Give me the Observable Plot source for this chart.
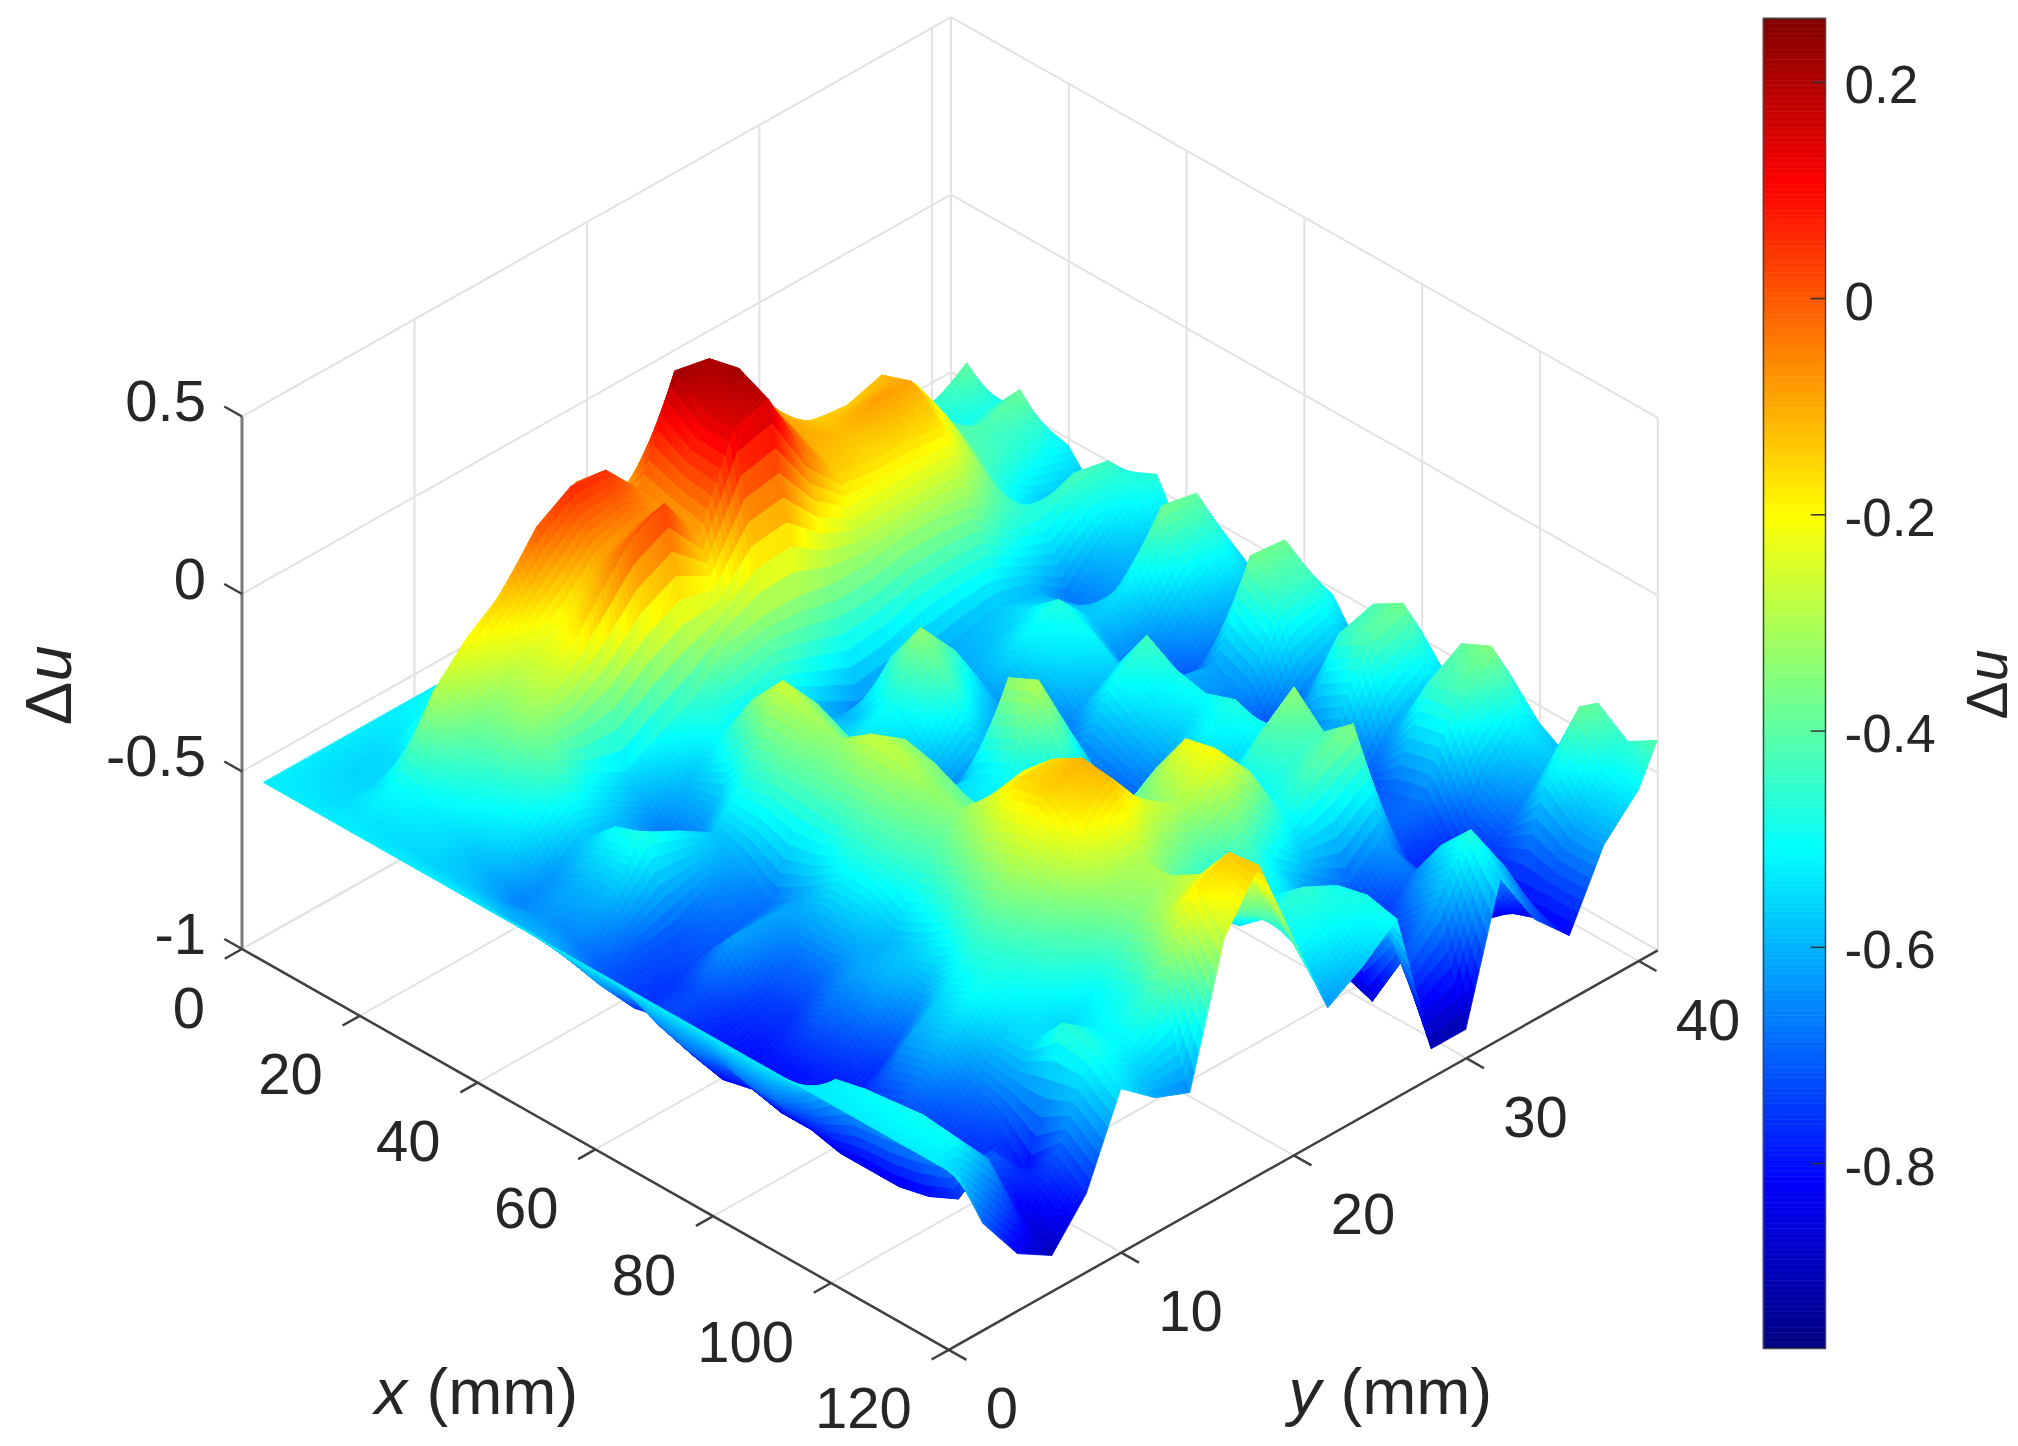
<!DOCTYPE html>
<html><head><meta charset="utf-8">
<script src="https://cdn.jsdelivr.net/npm/d3@7"></script>
<script src="https://cdn.jsdelivr.net/npm/@observablehq/plot@0.6"></script>
<style>html,body{margin:0;background:#fff}#c{position:relative;width:2018px;height:1446px;overflow:hidden}#c svg{position:absolute;top:0}</style>
</head><body><div id="c"></div>
<script>
const xs=[2,6,10,15,20,25,30,35,40,45,50,55,60,65,70,75,80,85,90,95,100,105,110,115,120];
const ys=[0.6,2,4,6,8,10,12,14,16,18,20,22,24,26,28,30,32,34,36,38,40,41.1];
const zY006=[-.53,-.53,-.53,-.53,-.53,-.53,-.53,-.53,-.53,-.53,-.53,-.53,-.53,-.53,-.53,-.53,-.53,-.53,-.53,-.53,-.53,-.53,-.53,-.53,-.53];
const zY02=[-.53,-.54,-.55,-.54,-.55,-.56,-.57,-.58,-.6,-.6,-.62,-.64,-.62,-.66,-.68,-.66,-.68,-.68,-.62,-.53,-.51,-.5,-.49,-.5,-.7];
const zY04=[-.53,-.56,-.56,-.5,-.52,-.55,-.6,-.66,-.64,-.66,-.72,-.76,-.74,-.8,-.82,-.8,-.82,-.82,-.84,-.84,-.84,-.82,-.78,-.62,-.84];
const zY06=[-.53,-.56,-.55,-.3,-.42,-.48,-.52,-.64,-.6,-.6,-.72,-.76,-.72,-.78,-.8,-.8,-.8,-.8,-.76,-.72,-.76,-.78,-.7,-.85,-.9];
const zY08=[-.53,-.52,-.42,-.2,-.34,-.33,-.42,-.58,-.5,-.47,-.72,-.72,-.62,-.74,-.76,-.7,-.72,-.76,-.62,-.6,-.68,-.72,-.82,-.72,-.78];
const zY10=[-.53,-.48,-.3,-.13,-.25,-.25,-.5,-.6,-.6,-.52,-.66,-.7,-.62,-.68,-.68,-.62,-.6,-.66,-.55,-.5,-.56,-.55,-.45,-.48,-.54];
const zY12=[-.53,-.42,-.22,0,-.2,-.12,-.55,-.66,-.72,-.58,-.62,-.68,-.62,-.55,-.55,-.6,-.56,-.5,-.44,-.46,-.5,-.56,-.52,-.52,-.62];
const zY14=[-.53,-.35,-.1,.06,-.1,0,-.5,-.6,-.58,-.46,-.42,-.42,-.44,-.42,-.42,-.44,-.4,-.34,-.3,-.36,-.42,-.5,-.48,-.42,-.66];
const zY16=[-.53,-.3,-.03,.05,-.06,.05,-.45,-.5,-.36,-.26,-.3,-.33,-.27,-.28,-.32,-.34,-.26,-.16,-.14,-.2,-.32,-.36,-.3,-.18,-.28];
const zY18=[-.53,-.3,-.15,-.06,-.08,-.1,-.35,-.6,-.48,-.38,-.42,-.46,-.34,-.36,-.4,-.42,-.24,-.16,-.11,-.12,-.3,-.3,-.25,-.14,-.13];
const zY20=[-.53,-.3,-.08,.22,.15,.15,-.33,-.55,-.58,-.55,-.58,-.66,-.55,-.55,-.58,-.62,-.5,-.3,-.25,-.25,-.4,-.46,-.42,-.32,-.39];
const zY22=[-.53,-.25,.08,.2,.22,.18,-.33,-.62,-.58,-.5,-.56,-.66,-.55,-.5,-.62,-.66,-.6,-.42,-.35,-.3,-.48,-.55,-.48,-.52,-.64];
const zY24=[-.53,-.3,.06,.1,.05,-.02,-.35,-.68,-.46,-.33,-.42,-.62,-.33,-.29,-.46,-.52,-.5,-.35,-.22,-.2,-.42,-.52,-.45,-.5,-.58];
const zY26=[-.53,-.32,-.02,-.08,-.1,-.14,-.35,-.66,-.56,-.45,-.58,-.7,-.5,-.5,-.62,-.66,-.66,-.5,-.34,-.32,-.55,-.6,-.5,-.48,-.5];
const zY28=[-.53,-.4,-.2,-.14,-.12,-.16,-.33,-.62,-.62,-.62,-.68,-.74,-.68,-.7,-.72,-.68,-.72,-.55,-.52,-.5,-.62,-.85,-.88,-.72,-.92];
const zY30=[-.53,-.45,-.26,-.15,-.08,-.16,-.33,-.6,-.58,-.52,-.56,-.62,-.5,-.56,-.6,-.52,-.58,-.42,-.46,-.4,-.7,-.78,-.7,-.62,-.92];
const zY32=[-.53,-.48,-.28,-.12,-.09,-.17,-.35,-.58,-.54,-.47,-.5,-.56,-.43,-.48,-.5,-.47,-.5,-.34,-.42,-.35,-.62,-.68,-.55,-.46,-.55];
const zY34=[-.53,-.46,-.26,-.2,-.24,-.32,-.45,-.6,-.58,-.58,-.66,-.72,-.6,-.68,-.72,-.68,-.55,-.58,-.72,-.7,-.78,-.76,-.82,-.62,-.72];
const zY36=[-.53,-.48,-.34,-.4,-.42,-.5,-.46,-.68,-.66,-.52,-.65,-.72,-.62,-.65,-.75,-.68,-.62,-.74,-.7,-.68,-.78,-.8,-.85,-.82,-.82];
const zY38=[-.53,-.46,-.5,-.42,-.46,-.6,-.42,-.58,-.62,-.37,-.55,-.66,-.37,-.45,-.66,-.45,-.4,-.62,-.45,-.43,-.62,-.68,-.55,-.62,-.62];
const zY40=[-.53,-.39,-.48,-.38,-.5,-.62,-.44,-.5,-.6,-.39,-.5,-.62,-.38,-.44,-.6,-.42,-.37,-.55,-.39,-.35,-.52,-.58,-.38,-.5,-.52];
const zY41=[-.53,-.5,-.5,-.5,-.52,-.62,-.5,-.46,-.62,-.5,-.56,-.64,-.5,-.52,-.64,-.52,-.48,-.58,-.5,-.46,-.55,-.6,-.4,-.46,-.41];
const zRows=[zY006,zY02,zY04,zY06,zY08,zY10,zY12,zY14,zY16,zY18,zY20,zY22,zY24,zY26,zY28,zY30,zY32,zY34,zY36,zY38,zY40,zY41];

const xTicks=[0,20,40,60,80,100,120], yTicks=[0,10,20,30,40], zTicks=[-1,-.5,0,.5], cTicks=[-.8,-.6,-.4,-.2,0,.2];
const xMax=120,yMax=41.1,zMin=-1,zMax=.5;
const cMin=-.971,cMax=.259;

// isometric-like view of the MATLAB axes
const O=[241.5,948.5],ux=[5.89,3.34],uy=[17.25,-9.72],uz=355;
const PX=(x,y,z)=>O[0]+ux[0]*x+uy[0]*y;
const PY=(x,y,z)=>O[1]+ux[1]*x+uy[1]*y-uz*(z-zMin);

const jetT=[0,.125,.375,.625,.875,1];
const jetC=["#000080","#0000ff","#00ffff","#ffff00","#ff0000","#800000"];
const colorOpt={type:"linear",domain:jetT.map(t=>cMin+t*(cMax-cMin)),range:jetC,interpolate:"rgb",clamp:true};

// quads for a "shading interp" surface, painted back to front
const N=8,cells=[];
for(let j=0;j<ys.length-1;j++)for(let i=0;i<xs.length-1;i++)for(let a=0;a<N;a++)for(let b=0;b<N;b++){
  const u0=a/N,u1=(a+1)/N,v0=b/N,v1=(b+1)/N;
  const f=(u,v)=>{
    const X=xs[i]+(xs[i+1]-xs[i])*u,Y=ys[j]+(ys[j+1]-ys[j])*v;
    const Z=(1-u)*(1-v)*zRows[j][i]+u*(1-v)*zRows[j][i+1]+(1-u)*v*zRows[j+1][i]+u*v*zRows[j+1][i+1];
    return [PX(X,Y,Z),PY(X,Y,Z),Z,X,Y];
  };
  const A=f(u0,v0),B=f(u1,v0),C=f(u0,v1),D=f(u1,v1),M=f((u0+u1)/2,(v0+v1)/2);
  cells.push({A,B,C,D,v:M[2],depth:3.36*M[3]-9.83*M[4]});
}
cells.sort((p,q)=>p.depth-q.depth);
const quads=[];
cells.forEach((c,k)=>{quads.push({k,v:c.v,x1:c.A[0],y1:c.A[1],x2:c.C[0],y2:c.C[1]});quads.push({k,v:c.v,x1:c.B[0],y1:c.B[1],x2:c.D[0],y2:c.D[1]});});

const seg=(a,b)=>({x1:PX(...a),y1:PY(...a),x2:PX(...b),y2:PY(...b)});
const grid=[];
for(const z of zTicks){grid.push(seg([0,0,z],[0,yMax,z]),seg([0,yMax,z],[xMax,yMax,z]));}
for(const y of yTicks){grid.push(seg([0,y,zMin],[0,y,zMax]),seg([0,y,zMin],[xMax,y,zMin]));}
for(const x of xTicks){grid.push(seg([x,yMax,zMin],[x,yMax,zMax]),seg([x,0,zMin],[x,yMax,zMin]));}
grid.push(seg([0,yMax,zMin],[0,yMax,zMax]));
const axesDark=[seg([0,0,zMin],[xMax,0,zMin]),seg([xMax,0,zMin],[xMax,yMax,zMin])];
const axisZ=[seg([0,0,zMin],[0,0,zMax])];
const ticks=[
 ...xTicks.map(x=>seg([x,0,zMin],[x,-1,zMin])),
 ...yTicks.map(y=>seg([xMax,y,zMin],[xMax+3,y,zMin])),
 ...zTicks.map(z=>seg([0,0,z],[-3,0,z]))
];
const F="Liberation Sans",INK="#262626";
const tick=(arr,fn,o)=>Plot.text(arr,{x:d=>fn(d)[0],y:d=>fn(d)[1],text:d=>String(d),fontSize:58,fill:INK,lineAnchor:"middle",...o});

const main=Plot.plot({width:2018,height:1446,margin:0,
  x:{domain:[0,2018],range:[0,2018],axis:null},y:{domain:[0,1446],range:[0,1446],axis:null},
  color:colorOpt,style:{fontFamily:F,background:"transparent",color:INK},
  marks:[
   Plot.link(grid,{x1:"x1",y1:"y1",x2:"x2",y2:"y2",stroke:"#e2e2e2",strokeWidth:2}),
   Plot.link(axisZ,{x1:"x1",y1:"y1",x2:"x2",y2:"y2",stroke:"#7a7a7a",strokeWidth:3}),
   Plot.link(axesDark,{x1:"x1",y1:"y1",x2:"x2",y2:"y2",stroke:"#404040",strokeWidth:2.5}),
   Plot.link(ticks,{x1:"x1",y1:"y1",x2:"x2",y2:"y2",stroke:"#404040",strokeWidth:2.5}),
   Plot.area(quads,{x1:"x1",y1:"y1",x2:"x2",y2:"y2",z:"k",fill:"v",stroke:"v",strokeWidth:.8}),
   tick(zTicks,z=>[PX(0,0,z),PY(0,0,z)],{textAnchor:"end",dx:-36,dy:-14}),
   tick(xTicks,x=>[PX(x,0,zMin),PY(x,0,zMin)],{textAnchor:"end",dx:-37,dy:60}),
   tick(yTicks,y=>[PX(xMax,y,zMin),PY(xMax,y,zMin)],{textAnchor:"start",dx:37,dy:60}),
   Plot.text(["x"],{x:()=>374,y:()=>1393,text:d=>d,fontSize:65,fontStyle:"italic",fill:INK,textAnchor:"start",lineAnchor:"middle"}),
   Plot.text(["(mm)"],{x:()=>426,y:()=>1393,text:d=>d,fontSize:65,fill:INK,textAnchor:"start",lineAnchor:"middle"}),
   Plot.text(["y"],{x:()=>1288,y:()=>1393,text:d=>d,fontSize:65,fontStyle:"italic",fill:INK,textAnchor:"start",lineAnchor:"middle"}),
   Plot.text(["(mm)"],{x:()=>1340,y:()=>1393,text:d=>d,fontSize:65,fill:INK,textAnchor:"start",lineAnchor:"middle"}),
   Plot.text(["Δ"],{x:()=>50,y:()=>703,text:d=>d,fontSize:65,rotate:-90,fill:INK,lineAnchor:"middle"}),
   Plot.text(["u"],{x:()=>50,y:()=>663,text:d=>d,fontSize:65,fontStyle:"italic",rotate:-90,fill:INK,lineAnchor:"middle"}),
   Plot.text(["Δ"],{x:()=>1988,y:()=>700,text:d=>d,fontSize:57,rotate:-90,fill:INK,lineAnchor:"middle"}),
   Plot.text(["u"],{x:()=>1988,y:()=>665,text:d=>d,fontSize:57,fontStyle:"italic",rotate:-90,fill:INK,lineAnchor:"middle"})
  ]});

const levels=d3.range(256).map(i=>({lo:cMin+(cMax-cMin)*i/256,hi:cMin+(cMax-cMin)*(i+1)/256,v:cMin+(cMax-cMin)*(i+.5)/256}));
const bar=Plot.plot({width:318,height:1446,marginTop:18,marginBottom:98,marginLeft:63,marginRight:193,
  x:{domain:[0,1],axis:null},y:{domain:[cMin,cMax],axis:null},color:colorOpt,
  style:{fontFamily:F,background:"transparent",color:INK},
  marks:[
   Plot.rect(levels,{x1:0,x2:1,y1:"lo",y2:"hi",fill:"v",stroke:"v",strokeWidth:.5}),
   Plot.ruleY(cTicks,{x1:.77,x2:1,stroke:"#333",strokeWidth:1.5}),
   Plot.frame({stroke:"#444",strokeWidth:1.5}),
   Plot.axisY(cTicks,{anchor:"right",tickSize:0,tickPadding:19,tickFormat:d=>String(d),fontSize:53,dy:4,label:null})
  ]});
bar.style.left="1700px";main.style.left="0";
document.getElementById("c").append(main,bar);
</script></body></html>
